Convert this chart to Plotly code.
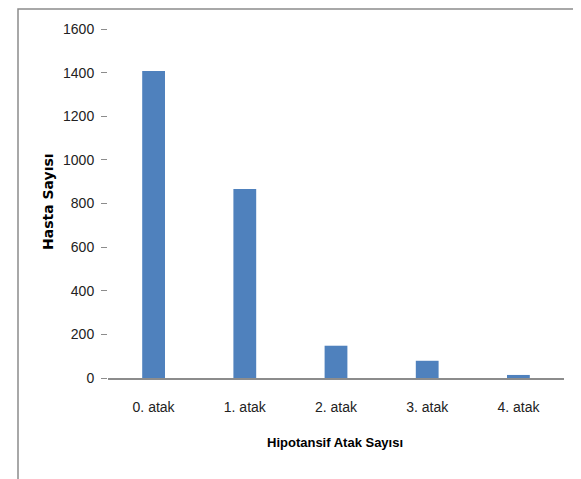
import plotly.graph_objects as go

categories = ["0. atak", "1. atak", "2. atak", "3. atak", "4. atak"]
hasta_sayisi = [1408, 866, 148, 79, 14]
y_ticks = [0, 200, 400, 600, 800, 1000, 1200, 1400, 1600]

# figure coordinates (page adds ~8px body offset)
W, H = 573, 471
L, R, T, B = 100, 17, 21, 101
PW = W - L - R
PH = H - T - B

fig = go.Figure()
fig.add_trace(go.Bar(
    x=categories, y=hasta_sayisi, width=0.25,
    marker=dict(color="#4F81BD", line=dict(width=0)),
))

fig.update_layout(
    width=W, height=H,
    margin=dict(l=L, r=R, t=T, b=B),
    paper_bgcolor="white", plot_bgcolor="white",
    showlegend=False,
    font=dict(family="Liberation Sans, Arial, sans-serif", size=14, color="#222"),
    xaxis=dict(
        range=[-0.5, 4.5], showline=True, linecolor="#8c8c8c", linewidth=1.5,
        ticks="", showgrid=False, zeroline=False,
        ticklabelstandoff=15, tickfont=dict(size=14, color="#222"),
    ),
    yaxis=dict(
        range=[0, 1600], tickvals=y_ticks, ticks="outside", ticklen=6,
        tickcolor="#8c8c8c", tickwidth=1, showline=False, showgrid=False,
        zeroline=False, ticklabelstandoff=4, tickfont=dict(size=14, color="#222"),
    ),
    shapes=[dict(type="rect", xref="paper", yref="paper",
                 x0=(10 - L) / PW, x1=(571 - L) / PW,
                 y0=-(H - (T + PH) + 20) / PH, y1=(T + PH - 1) / PH,
                 line=dict(color="#8c8c8c", width=1.5))],
    annotations=[
        dict(text="<b>Hasta Sayısı</b>", xref="paper", yref="paper",
             x=(40 - L) / PW, y=(T + PH - 194) / PH, textangle=-90, showarrow=False,
             xanchor="center", yanchor="middle",
             font=dict(family="DejaVu Sans, sans-serif", size=14, color="#000")),
        dict(text="<b>Hipotansif Atak Sayısı</b>", xref="paper", yref="paper",
             x=(327 - L) / PW, y=-(434 - (T + PH)) / PH, showarrow=False,
             xanchor="center", yanchor="middle",
             font=dict(family="Liberation Sans, Arial, sans-serif", size=13, color="#000")),
    ],
)

fig.write_html("out.html")
